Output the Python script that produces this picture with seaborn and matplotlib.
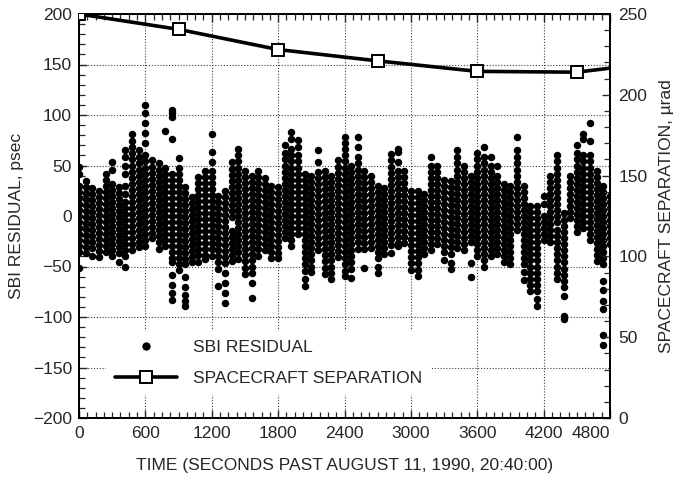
import numpy as np
import pandas as pd
import matplotlib
matplotlib.use("Agg")
import matplotlib.pyplot as plt
from matplotlib.lines import Line2D
from matplotlib.ticker import MultipleLocator, FixedLocator
import seaborn as sns

# ---------------- data ----------------
resid_times = [0, 60, 120, 180, 240, 300, 360, 420, 480, 540,
               600, 660, 720, 780, 840, 900, 960, 1020, 1080, 1140,
               1200, 1260, 1320, 1380, 1440, 1500, 1560, 1620, 1680, 1740,
               1800, 1860, 1920, 1980, 2040, 2100, 2160, 2220, 2280, 2340,
               2400, 2460, 2520, 2580, 2640, 2700, 2760, 2820, 2880, 2940,
               3000, 3060, 3120, 3180, 3240, 3300, 3360, 3420, 3480, 3540,
               3600, 3660, 3720, 3780, 3840, 3900, 3960, 4020, 4080, 4140,
               4200, 4260, 4320, 4380, 4440, 4500, 4560, 4620, 4680, 4740,
               4800]

resid_values = [
    [49, 42, 30, 24, 18, 12, 6, 0, -6, -12, -18, -24, -30, -36, -51],
    [35, 29, 23, 17, 11, 5, -1, -7, -13, -19, -25, -31, -37],
    [28, 22, 16, 10, 4, -2, -8, -14, -20, -26, -32, -40],
    [25, 19, 13, 7, 1, -5, -11, -17, -23, -29, -35, -41],
    [42, 36, 30, 24, 18, 12, 6, 0, -6, -12, -18, -24, -30, -36],
    [53, 46, 32, 26, 20, 14, 8, 2, -4, -10, -16, -22, -28, -34, -40],
    [29, 23, 17, 11, 5, -1, -7, -13, -19, -25, -31, -37, -46],
    [65, 58, 50, 42, 30, 22, 14, 8, 2, -4, -10, -16, -22, -28, -34, -40, -50],
    [81, 74, 68, 62, 56, 50, 44, 38, 32, 26, 20, 14, 8, 2, -4, -10, -16, -22, -28, -34],
    [65, 58, 52, 46, 40, 34, 28, 22, 16, 10, 4, -2, -8, -14, -20, -26, -31],
    [110, 102, 92, 82, 72, 60, 54, 48, 42, 36, 30, 24, 18, 12, 6, 0, -6, -12, -18, -24, -30],
    [55, 49, 43, 37, 31, 25, 19, 13, 7, 1, -5, -11, -17, -22],
    [52, 46, 40, 34, 28, 22, 16, 10, 4, -2, -8, -14, -20, -26, -33],
    [84, 48, 42, 36, 30, 24, 18, 12, 6, 0, -6, -12, -18, -24, -30],
    [105, 102, 98, 76, 42, 36, 30, 24, 18, 12, 6, 0, -6, -12, -18, -24, -30, -36, -42, -46, -58, -68, -76, -83],
    [57, 48, 42, 36, 30, 24, 18, 12, 6, 0, -6, -12, -18, -24, -30, -36, -42, -48, -53],
    [29, 23, 17, 11, 5, -1, -7, -13, -19, -25, -31, -37, -43, -48, -60, -70, -78, -84, -89],
    [19, 13, 7, 1, -5, -11, -17, -23, -29, -35, -41, -46],
    [39, 33, 27, 21, 15, 9, 3, -3, -9, -15, -21, -27, -33, -39, -46],
    [45, 39, 33, 27, 21, 15, 9, 3, -3, -9, -15, -21, -27, -33, -39, -43],
    [81, 63, 53, 45, 39, 33, 27, 21, 15, 9, 3, -3, -9, -15, -21, -27, -33, -40],
    [20, 14, 8, 2, -4, -10, -16, -22, -28, -34, -40, -46, -52, -69],
    [25, 19, 13, 7, 1, -5, -11, -17, -23, -29, -35, -41, -47, -56, -66, -76, -86],
    [53, 47, 41, 35, 29, 23, 17, 11, 5, -1, -15, -21, -27, -33, -39, -45],
    [66, 60, 54, 48, 42, 36, 30, 24, 18, 12, 6, 0, -6, -12, -18, -24, -30, -36, -43],
    [45, 39, 33, 27, 21, 15, 9, 3, -3, -9, -15, -21, -27, -33, -39, -45, -51, -57],
    [40, 34, 28, 22, 16, 10, 4, -2, -8, -14, -20, -26, -32, -38, -44, -50, -56, -66, -81],
    [45, 39, 33, 27, 21, 15, 9, 3, -3, -9, -15, -21, -27, -33, -40],
    [38, 32, 26, 20, 14, 8, 2, -4, -10, -16, -22, -28, -34],
    [30, 24, 18, 12, 6, 0, -6, -12, -18, -24, -30, -36, -42],
    [29, 23, 17, 11, 5, -1, -7, -13, -19, -25, -31, -37, -42],
    [70, 62, 56, 50, 44, 38, 32, 26, 20, 14, 8, 2, -4, -10, -16, -22],
    [83, 76, 66, 60, 54, 48, 42, 36, 30, 24, 18, 12, 6, 0, -6, -12, -18, -24, -30],
    [75, 68, 60, 54, 48, 42, 36, 30, 24, 18, 12, 6, 0, -6, -12, -18],
    [42, 36, 30, 24, 18, 12, 6, 0, -6, -12, -18, -24, -30, -36, -42, -48, -54, -62, -69],
    [40, 34, 28, 22, 16, 10, 4, -2, -8, -14, -20, -26, -32, -38, -44, -50, -55],
    [65, 53, 44, 38, 32, 26, 20, 14, 8, 2, -4, -10, -16, -22, -28, -34],
    [45, 39, 33, 27, 21, 15, 9, 3, -3, -9, -15, -21, -27, -33, -39, -45, -51, -57],
    [40, 34, 28, 22, 16, 10, 4, -2, -8, -14, -20, -26, -32, -38, -44, -50, -56, -62],
    [55, 49, 43, 37, 31, 25, 19, 13, 7, 1, -5, -11, -17, -23, -29, -35, -41],
    [78, 72, 66, 60, 54, 48, 42, 36, 30, 24, 18, 12, 6, 0, -6, -12, -18, -24, -30, -36, -42, -48, -54, -59],
    [50, 44, 38, 32, 26, 20, 14, 8, 2, -4, -10, -16, -22, -28, -34, -40, -46, -52, -61],
    [78, 68, 58, 52, 46, 40, 34, 28, 22, 16, 10, 4, -2, -8, -14, -20, -26, -33],
    [45, 39, 33, 27, 21, 15, 9, 3, -3, -9, -15, -21, -27, -33, -51],
    [40, 34, 28, 22, 16, 10, 4, -2, -8, -14, -20, -26, -32],
    [30, 24, 18, 12, 6, 0, -6, -12, -18, -24, -30, -36, -42, -50, -56],
    [28, 22, 16, 10, 4, -2, -8, -14, -20, -26, -32, -38],
    [61, 55, 49, 43, 37, 31, 25, 19, 13, 7, 1, -5, -11, -17, -23, -29, -37],
    [66, 63, 53, 45, 39, 33, 27, 21, 15, 9, 3, -3, -9, -15, -21, -27, -30],
    [45, 39, 33, 27, 21, 15, 9, 3, -3, -9, -15, -21, -27],
    [25, 19, 13, 7, 1, -5, -11, -17, -23, -29, -35, -41, -47, -53],
    [25, 19, 13, 7, 1, -5, -11, -17, -23, -29, -35, -41, -47, -53, -59],
    [22, 16, 10, 4, -2, -8, -14, -20, -26, -32, -38],
    [58, 50, 44, 38, 32, 26, 20, 14, 8, 2, -4, -10, -16, -22, -28, -34],
    [50, 44, 38, 32, 26, 20, 14, 8, 2, -4, -10, -16, -22, -28],
    [36, 30, 24, 18, 12, 6, 0, -6, -12, -18, -24, -30, -36, -44],
    [35, 29, 23, 17, 11, 5, -1, -7, -13, -19, -25, -31, -38, -47, -52],
    [65, 58, 52, 46, 40, 34, 28, 22, 16, 10, 4, -2, -8, -14, -20, -26, -32],
    [50, 44, 38, 32, 26, 20, 14, 8, 2, -4, -10, -16, -22, -28, -34],
    [40, 34, 28, 22, 16, 10, 4, -2, -8, -14, -20, -26, -47, -60],
    [62, 56, 50, 44, 38, 32, 26, 20, 14, 8, 2, -4, -10, -16, -22, -28, -34, -40],
    [68, 58, 52, 46, 40, 34, 28, 22, 16, 10, 4, -2, -8, -14, -20, -26, -32, -38, -44, -50],
    [58, 50, 44, 38, 32, 26, 20, 14, 8, 2, -4, -10, -16, -22, -28, -34, -40],
    [50, 40, 34, 28, 22, 16, 10, 4, -2, -8, -14, -20, -26, -32, -38],
    [32, 26, 20, 14, 8, 2, -4, -10, -16, -22, -28, -34, -40, -46],
    [30, 24, 18, 12, 6, 0, -6, -12, -18, -24, -30, -36, -42, -48],
    [78, 65, 58, 52, 46, 40, 34, 28, 22, 16, 10, 4, -2, -8, -14],
    [30, 24, 18, 12, 6, 0, -6, -12, -18, -24, -30, -36, -42, -48, -55, -63],
    [10, 4, -2, -8, -14, -20, -26, -32, -38, -44, -50, -56, -62, -68, -74],
    [10, 4, -2, -8, -14, -20, -26, -32, -38, -44, -50, -56, -62, -68, -74, -82, -89],
    [20, 12, 0, -6, -12, -18, -24],
    [40, 34, 28, 22, 16, 10, 4, -2, -8, -14, -20, -26],
    [60, 54, 48, 42, 36, 30, 24, 18, 12, 6, 0, -6, -14, -20, -26, -32, -38, -44, -50, -56, -62],
    [3, -4, -10, -16, -22, -28, -34, -40, -46, -52, -58, -64, -70, -79, -99, -102],
    [40, 34, 28, 22, 16, 10, 4, -2],
    [70, 62, 56, 50, 44, 38, 32, 26, 20, 14, 8, 2, -4, -10, -16],
    [81, 76, 60, 54, 48, 42, 36, 30, 24, 18, 12, 6, 0, -6, -12],
    [92, 74, 60, 54, 48, 42, 36, 30, 24, 18, 12, 6, 0, -6, -12, -18, -24],
    [45, 39, 33, 27, 21, 15, 9, 3, -3, -9, -15, -21, -27, -33, -39, -45],
    [30, 24, 18, 12, 6, 0, -6, -12, -18, -24, -30, -36, -42, -48, -64, -73, -84, -92, -118, -128],
    [20, 14, 8, 2, -4, -10, -16, -22, -28],
]

sep_times = [0, 900, 1800, 2700, 3600, 4500, 4800]
sep_values = [250, 240.5, 228, 221, 214.5, 214, 216.5]
sep_marker_idx = [0, 1, 2, 3, 4, 5]

x_ticks = [0, 600, 1200, 1800, 2400, 3000, 3600, 4200, 4800]
x_tick_labels = ["0", "600", "1200", "1800", "2400", "3000", "3600", "4200", "4800"]
left_ticks = [-200, -150, -100, -50, 0, 50, 100, 150, 200]
right_ticks = [0, 50, 100, 150, 200, 250]

label_resid = "SBI RESIDUAL"
label_sep = "SPACECRAFT SEPARATION"
x_label = "TIME (SECONDS PAST AUGUST 11, 1990, 20:40:00)"
y_label_left = "SBI RESIDUAL, psec"
y_label_right = "SPACECRAFT SEPARATION, \u00b5rad"

# ---------------- build tables ----------------
rows_t, rows_v = [], []
for t, vals in zip(resid_times, resid_values):
    for v in vals:
        rows_t.append(t)
        rows_v.append(v)
resid_df = pd.DataFrame({"time": rows_t, "resid": rows_v})
sep_df = pd.DataFrame({"time": sep_times, "sep": sep_values})

# ---------------- style ----------------
sns.set_style("white")
plt.rcParams["font.family"] = ["Liberation Sans", "DejaVu Sans"]
FS = 12.5

fig = plt.figure(figsize=(6.78, 4.78), dpi=100)
ax = fig.add_axes([79 / 678, 1 - 418 / 478, 531 / 678, 404 / 478])
ax2 = ax.twinx()

# gridlines
ax.set_axisbelow(True)
ax.grid(True, which="major", color="0.25", linestyle=(0, (1, 1.6)), linewidth=0.8)

sns.scatterplot(data=resid_df, x="time", y="resid", ax=ax, color="black",
                s=29, linewidth=0, marker="o", legend=False, zorder=3)

sns.lineplot(data=sep_df, x="time", y="sep", ax=ax2, color="black",
             linewidth=2.6, marker="s", markersize=9, markerfacecolor="white",
             markeredgecolor="black", markeredgewidth=1.4,
             markevery=sep_marker_idx, estimator=None, legend=False, zorder=4)

# limits & ticks
ax.set_xlim(0, 4800)
ax.set_ylim(-200, 200)
ax2.set_ylim(0, 250)

ax.xaxis.set_major_locator(FixedLocator(x_ticks))
ax.set_xticklabels(x_tick_labels)
ax.xaxis.set_minor_locator(MultipleLocator(75))
ax.yaxis.set_major_locator(FixedLocator(left_ticks))
ax.yaxis.set_minor_locator(MultipleLocator(10))
ax2.yaxis.set_major_locator(FixedLocator(right_ticks))
ax2.yaxis.set_minor_locator(MultipleLocator(10))

ax.tick_params(axis="x", which="both", direction="in", top=True, bottom=True,
               labelsize=FS, pad=6)
ax.tick_params(axis="x", which="major", length=6, width=1.0)
ax.tick_params(axis="x", which="minor", length=4, width=0.9)
ax.tick_params(axis="y", which="both", direction="in", left=True, right=False,
               labelsize=FS, pad=5)
ax.tick_params(axis="y", which="major", length=6, width=1.0)
ax.tick_params(axis="y", which="minor", length=4, width=0.9)
ax2.tick_params(axis="y", which="both", direction="in", right=True, left=False,
                labelsize=FS, pad=6)
ax2.tick_params(axis="y", which="major", length=6, width=1.0)
ax2.tick_params(axis="y", which="minor", length=4, width=0.9)

# shift last x label to fit inside like the reference
xl = ax.get_xticklabels()
xl[-1].set_horizontalalignment("right")

for a in (ax, ax2):
    for sp in a.spines.values():
        sp.set_linewidth(1.4)
        sp.set_color("black")

ax.set_xlabel(x_label, fontsize=FS, labelpad=12)
ax.set_ylabel(y_label_left, fontsize=FS, labelpad=6)
ax2.set_ylabel(y_label_right, fontsize=FS, labelpad=8)

# legend
h1 = Line2D([], [], linestyle="none", marker="o", markersize=6,
            color="black", markeredgewidth=0)
h2 = Line2D([], [], color="black", linewidth=2.6, marker="s", markersize=9,
            markerfacecolor="white", markeredgecolor="black", markeredgewidth=1.4)
leg = ax.legend([h1, h2], [label_resid, label_sep], loc="lower left",
                bbox_to_anchor=(0.035, 0.035), fontsize=FS, frameon=True,
                fancybox=False, framealpha=1, facecolor="white",
                edgecolor="none", handlelength=3.6, handletextpad=0.9,
                labelspacing=0.95, borderpad=0.5)
leg.set_zorder(10)

fig.savefig("out.png", dpi=100)
